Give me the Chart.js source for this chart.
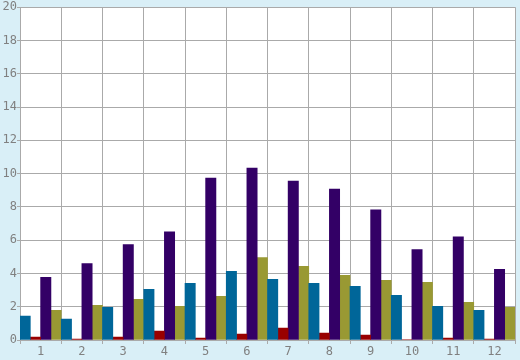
<!DOCTYPE html>
<html>
<head>
<meta charset="utf-8">
<script src="https://cdn.jsdelivr.net/npm/chart.js@4"></script>
<style>
  html, body { margin: 0; padding: 0; background: #d9eff7; }
  #wrap { width: 520px; height: 360px; }
</style>
</head>
<body>
<div id="wrap"><canvas id="chart" width="520" height="360"></canvas></div>
<script>
const labels = ['1', '2', '3', '4', '5', '6', '7', '8', '9', '10', '11', '12'];
const blueVals   = [1.43, 1.25, 1.97, 3.04, 3.40, 4.12, 3.64, 3.40, 3.22, 2.69, 2.03, 1.79];
const redVals    = [0.18, 0.06, 0.18, 0.54, 0.12, 0.36, 0.72, 0.42, 0.30, 0.03, 0.12, 0.06];
const purpleVals = [3.76, 4.60, 5.73, 6.50, 9.73, 10.33, 9.55, 9.07, 7.82, 5.43, 6.20, 4.24];
const oliveVals  = [1.79, 2.09, 2.45, 2.03, 2.63, 4.96, 4.42, 3.88, 3.58, 3.46, 2.27, 1.97];

const gridCol = '#aaaaaa';
const txtCol = '#808080';

// white plot area on the light blue page
const plotBg = {
  id: 'plotBg',
  beforeDraw(c) {
    const a = c.chartArea, g = c.ctx;
    g.save();
    g.fillStyle = '#ffffff';
    g.fillRect(a.left, a.top, a.right - a.left, a.bottom - a.top);
    g.restore();
  }
};

const ds = (data, color) => ({
  data, backgroundColor: color, borderWidth: 0,
  barPercentage: 1, categoryPercentage: 1
});

new Chart(document.getElementById('chart'), {
  type: 'bar',
  data: {
    labels,
    datasets: [
      ds(blueVals, '#006699'),
      ds(redVals, '#990000'),
      ds(purpleVals, '#330066'),
      ds(oliveVals, '#999933')
    ]
  },
  options: {
    responsive: false,
    animation: false,
    layout: { padding: { top: 5, right: 5, left: 0, bottom: 0 } },
    plugins: { legend: { display: false }, tooltip: { enabled: false } },
    scales: {
      x: {
        offset: true,
        grid: { offset: true, color: gridCol, tickLength: 4 },
        border: { color: gridCol },
        ticks: { color: txtCol, padding: 1, font: { family: 'DejaVu Sans Mono', size: 12 } },
        afterFit: (s) => { s.height = 20; }
      },
      y: {
        min: 0, max: 20,
        grid: { color: gridCol, tickLength: 3 },
        border: { color: gridCol },
        ticks: {
          stepSize: 1, padding: 0, color: txtCol,
          font: { family: 'DejaVu Sans Mono', size: 12 },
          callback: (v) => (v % 2 === 0 ? v : '')
        },
        afterFit: (s) => { s.width = 20; }
      }
    }
  },
  plugins: [plotBg]
});
</script>
</body>
</html>
